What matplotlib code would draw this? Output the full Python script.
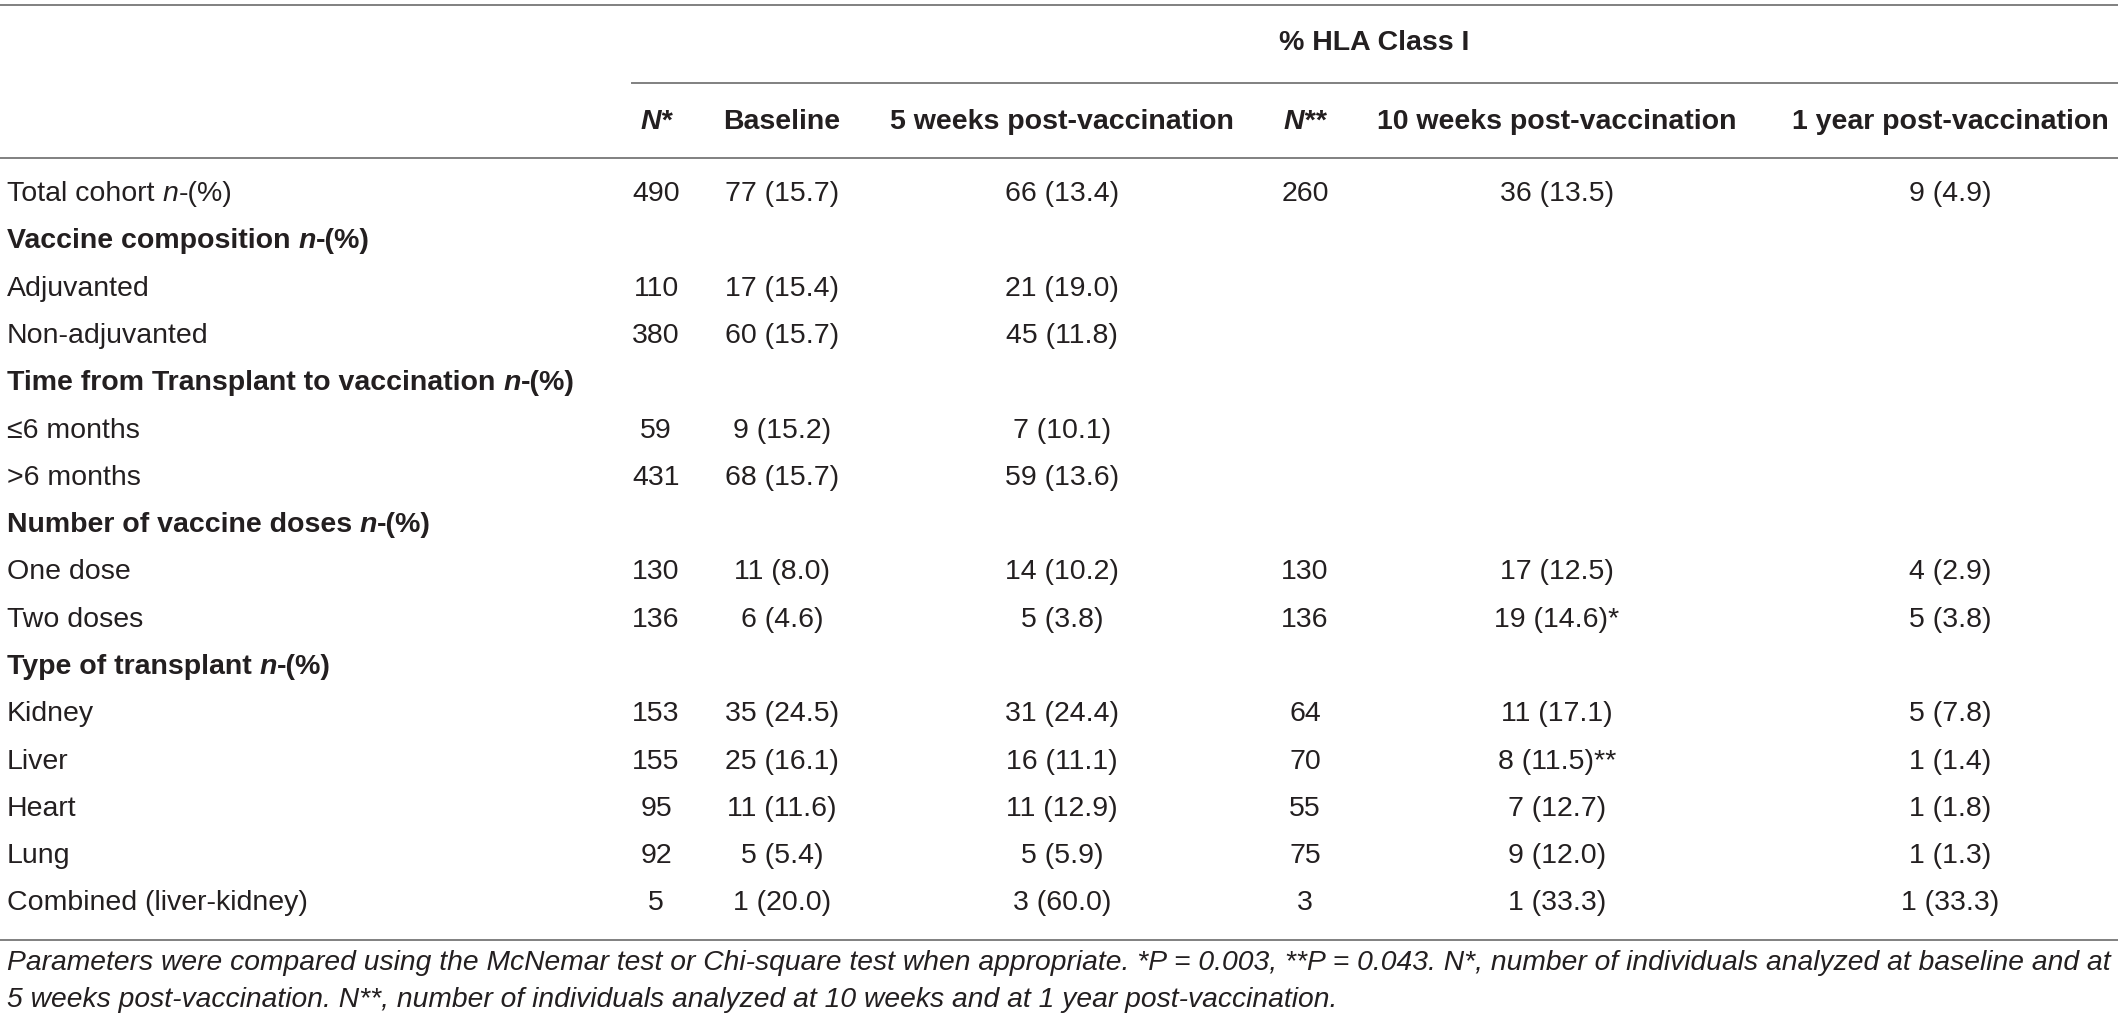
import matplotlib.pyplot as plt

plt.rcParams['font.family'] = ['Liberation Sans', 'DejaVu Sans']

# table content
row_labels = ['Total cohort', 'Vaccine composition', 'Adjuvanted', 'Non-adjuvanted',
              'Time from Transplant to vaccination', '\u22646 months', '>6 months',
              'Number of vaccine doses', 'One dose', 'Two doses',
              'Type of transplant', 'Kidney', 'Liver', 'Heart', 'Lung',
              'Combined (liver-kidney)']
# 'n' rows get the italic "n-(%)" suffix, 's' rows are bold section headers
row_kind = ['n', 's', '', '', 's', '', '', 's', '', '', 's', '', '', '', '', '']
n_star = ['490', '', '110', '380', '', '59', '431', '', '130', '136', '',
          '153', '155', '95', '92', '5']
baseline = ['77 (15.7)', '', '17 (15.4)', '60 (15.7)', '', '9 (15.2)', '68 (15.7)', '',
            '11 (8.0)', '6 (4.6)', '', '35 (24.5)', '25 (16.1)', '11 (11.6)', '5 (5.4)',
            '1 (20.0)']
wk5 = ['66 (13.4)', '', '21 (19.0)', '45 (11.8)', '', '7 (10.1)', '59 (13.6)', '',
       '14 (10.2)', '5 (3.8)', '', '31 (24.4)', '16 (11.1)', '11 (12.9)', '5 (5.9)',
       '3 (60.0)']
n_2star = ['260', '', '', '', '', '', '', '', '130', '136', '', '64', '70', '55', '75', '3']
wk10 = ['36 (13.5)', '', '', '', '', '', '', '', '17 (12.5)', '19 (14.6)*', '',
        '11 (17.1)', '8 (11.5)**', '7 (12.7)', '9 (12.0)', '1 (33.3)']
yr1 = ['9 (4.9)', '', '', '', '', '', '', '', '4 (2.9)', '5 (3.8)', '',
       '5 (7.8)', '1 (1.4)', '1 (1.8)', '1 (1.3)', '1 (33.3)']

col_titles = ['Baseline', '5 weeks post-vaccination', '10 weeks post-vaccination',
              '1 year post-vaccination']
group_title = '% HLA Class I'
footnote = ['Parameters were compared using the McNemar test or Chi-square test when appropriate. '
            '*P = 0.003, **P = 0.043. N*, number of individuals analyzed at baseline and at',
            '5 weeks post-vaccination. N**, number of individuals analyzed at 10 weeks and at '
            '1 year post-vaccination.']

W, H = 2118, 1025
TXT = '#231f20'
LINE = '#808080'
FS = 20.5

fig = plt.figure(figsize=(W / 100, H / 100), dpi=100)
ax = fig.add_axes([0, 0, 1, 1])
ax.set_xlim(0, W)
ax.set_ylim(H, 0)
ax.axis('off')
rend = fig.canvas.get_renderer()


def rich(x, y, parts):
    # draw text pieces one after another on a baseline
    for s, style, weight in parts:
        t = ax.text(x, y, s, fontsize=FS, style=style, weight=weight, color=TXT,
                    va='center', ha='left')
        x += t.get_window_extent(rend).width


# rules
ax.plot([0, W], [5, 5], color=LINE, lw=1.4)
ax.plot([632, W], [83, 83], color=LINE, lw=1.4)
ax.plot([0, W], [158, 158], color=LINE, lw=1.4)
ax.plot([0, W], [940, 940], color=LINE, lw=1.4)

# header
ax.text(1374, 43, group_title, fontsize=FS, weight='bold', color=TXT, ha='center', va='center')
col_x = [656, 782, 1062, 1305, 1557, 1950]
hdr_y = 122
ax.text(col_x[0], hdr_y, 'N*', fontsize=FS, weight='bold', style='italic', color=TXT,
        ha='center', va='center')
ax.text(col_x[3], hdr_y, 'N**', fontsize=FS, weight='bold', style='italic', color=TXT,
        ha='center', va='center')
for cx, title in zip([col_x[1], col_x[2], col_x[4], col_x[5]], col_titles):
    ax.text(cx, hdr_y, title, fontsize=FS, weight='bold', color=TXT, ha='center', va='center')

# body
y0, dy = 194, 47.3
cols = [n_star, baseline, wk5, n_2star, wk10, yr1]
for i, lab in enumerate(row_labels):
    y = y0 + i * dy
    kind = row_kind[i]
    if kind == 's':
        rich(7, y, [(lab + ' ', 'normal', 'bold'), ('n', 'italic', 'bold'),
                    ('-(%)', 'normal', 'bold')])
    elif kind == 'n':
        rich(7, y, [(lab + ' ', 'normal', 'normal'), ('n', 'italic', 'normal'),
                    ('-(%)', 'normal', 'normal')])
    else:
        ax.text(7, y, lab, fontsize=FS, color=TXT, ha='left', va='center')
    for cx, vals in zip(col_x, cols):
        if vals[i]:
            ax.text(cx, y, vals[i], fontsize=FS, color=TXT, ha='center', va='center')

# footnote
for k, line in enumerate(footnote):
    ax.text(7, 963 + k * 37, line, fontsize=20.3, style='italic', color=TXT,
            ha='left', va='center')

fig.savefig('out.png', dpi=100)
